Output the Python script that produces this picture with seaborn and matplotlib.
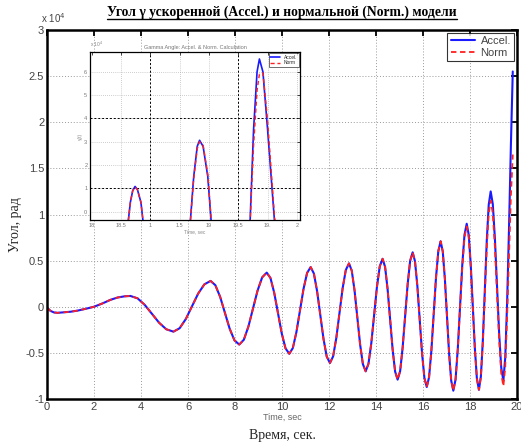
import numpy as np
import pandas as pd
import matplotlib
matplotlib.use("Agg")
import matplotlib.pyplot as plt
import seaborn as sns
from matplotlib.lines import Line2D

# ---------------- data (values in units of the x10 factor) ----------------
t = [0.0, 0.15, 0.3, 0.45, 0.7, 1.0, 1.3, 1.65, 2.0, 2.35, 2.7, 3.0, 3.3, 3.55,
     3.855, 4.16, 4.465, 4.77, 5.075, 5.38,
     5.643, 5.907, 6.17, 6.433, 6.697, 6.96,
     7.163, 7.367, 7.57, 7.773, 7.977, 8.18,
     8.375, 8.57, 8.765, 8.96, 9.155, 9.35,
     9.51, 9.67, 9.83, 9.99, 10.15, 10.31,
     10.462, 10.613, 10.765, 10.917, 11.068, 11.22,
     11.357, 11.493, 11.63, 11.767, 11.903, 12.04,
     12.175, 12.31, 12.445, 12.58, 12.715, 12.85,
     12.968, 13.087, 13.205, 13.323, 13.442, 13.56,
     13.68, 13.80, 13.92, 14.04, 14.16, 14.28,
     14.387, 14.493, 14.60, 14.707, 14.813, 14.92,
     15.027, 15.133, 15.24, 15.347, 15.453, 15.56,
     15.66, 15.76, 15.86, 15.96, 16.06, 16.16,
     16.258, 16.357, 16.455, 16.553, 16.652, 16.75,
     16.84, 16.93, 17.02, 17.11, 17.20, 17.29,
     17.385, 17.48, 17.575, 17.67, 17.765, 17.86,
     17.947, 18.033, 18.12, 18.207, 18.293, 18.38,
     18.463, 18.547, 18.63, 18.713, 18.797, 18.88,
     18.97, 19.06, 19.15, 19.24, 19.33, 19.42,
     19.50, 19.58, 19.66, 19.74, 19.82]

accel = [-0.01, -0.045, -0.062, -0.066, -0.06, -0.054, -0.042, -0.022, 0.0, 0.035, 0.075, 0.10, 0.113, 0.117,
         0.091, 0.020, -0.077, -0.173, -0.244, -0.27,
         -0.233, -0.133, 0.005, 0.143, 0.243, 0.28,
         0.234, 0.108, -0.065, -0.238, -0.364, -0.41,
         -0.358, -0.215, -0.02, 0.175, 0.318, 0.37,
         0.311, 0.15, -0.07, -0.29, -0.451, -0.51,
         -0.447, -0.275, -0.04, 0.195, 0.367, 0.43,
         0.36, 0.17, -0.09, -0.35, -0.54, -0.61,
         -0.538, -0.34, -0.07, 0.20, 0.398, 0.47,
         0.392, 0.178, -0.115, -0.407, -0.622, -0.70,
         -0.618, -0.395, -0.09, 0.215, 0.438, 0.52,
         0.432, 0.193, -0.135, -0.462, -0.702, -0.79,
         -0.698, -0.445, -0.10, 0.245, 0.498, 0.59,
         0.492, 0.225, -0.14, -0.505, -0.772, -0.87,
         -0.764, -0.475, -0.08, 0.315, 0.604, 0.71,
         0.601, 0.305, -0.10, -0.505, -0.801, -0.91,
         -0.789, -0.458, -0.005, 0.448, 0.779, 0.90,
         0.779, 0.45, 0.0, -0.45, -0.779, -0.90,
         -0.756, -0.363, 0.175, 0.713, 1.106, 1.25,
         1.113, 0.738, 0.225, -0.288, -0.663, -0.80,
         -0.55, 0.05, 0.85, 1.75, 2.55]

norm = [-0.01, -0.045, -0.062, -0.066, -0.06, -0.054, -0.042, -0.022, 0.0, 0.035, 0.075, 0.10, 0.113, 0.117,
        0.091, 0.020, -0.077, -0.173, -0.244, -0.27,
        -0.233, -0.133, 0.005, 0.143, 0.243, 0.28,
        0.234, 0.108, -0.065, -0.238, -0.364, -0.41,
        -0.358, -0.215, -0.02, 0.175, 0.318, 0.37,
        0.311, 0.15, -0.07, -0.29, -0.451, -0.51,
        -0.447, -0.275, -0.04, 0.195, 0.367, 0.43,
        0.36, 0.17, -0.09, -0.35, -0.54, -0.61,
        -0.538, -0.34, -0.07, 0.20, 0.398, 0.47,
        0.392, 0.178, -0.115, -0.407, -0.622, -0.70,
        -0.618, -0.395, -0.09, 0.215, 0.438, 0.52,
        0.432, 0.193, -0.135, -0.462, -0.702, -0.79,
        -0.698, -0.445, -0.10, 0.245, 0.498, 0.59,
        0.492, 0.225, -0.14, -0.505, -0.772, -0.87,
        -0.764, -0.475, -0.08, 0.315, 0.604, 0.71,
        0.601, 0.305, -0.10, -0.505, -0.801, -0.91,
        -0.79, -0.465, -0.02, 0.425, 0.751, 0.87,
        0.751, 0.428, -0.015, -0.458, -0.781, -0.90,
        -0.763, -0.388, 0.125, 0.638, 1.013, 1.15,
        1.015, 0.648, 0.145, -0.358, -0.725, -0.86,
        -0.65, -0.10, 0.55, 1.20, 1.65]

# inset (zoomed) data
t_in = [18.20, 18.31, 18.33, 18.35, 18.37, 18.39, 18.42, 18.44, 18.60,
        18.84, 18.87, 18.90, 18.92, 18.95, 18.99, 19.02, 19.20,
        19.35, 19.38, 19.41, 19.43, 19.46, 19.50, 19.56, 19.70]
accel_in = [-3, -0.5, 0.4, 0.9, 1.08, 0.95, 0.4, -0.5, -3,
            -0.5, 1.5, 2.8, 3.06, 2.8, 1.5, -0.5, -3,
            -0.5, 3.5, 6.0, 6.55, 6.0, 3.5, -0.5, -3]
norm_in = [-3, -0.5, 0.4, 0.9, 1.05, 0.95, 0.4, -0.5, -3,
           -0.5, 1.4, 2.7, 3.0, 2.85, 1.6, -0.4, -3,
           -0.6, 2.8, 5.2, 5.9, 5.95, 3.9, -0.3, -3]

x_ticks = [0, 2, 4, 6, 8, 10, 12, 14, 16, 18, 20]
y_ticks = [-1, -0.5, 0, 0.5, 1, 1.5, 2, 2.5, 3]
y_ticklabels = ["-1", "-0.5", "0", "0.5", "1", "1.5", "2", "2.5", "3"]
in_x_ticks = [18.0, 18.25, 18.5, 18.75, 19.0, 19.25, 19.5, 19.75]
in_x_labels = ["18", "18.5", "1", "1.5", "19", "19.5", "19.", "2"]
in_y_ticks = [0, 1, 2, 3, 4, 5, 6]

df = pd.DataFrame({"t": t, "Accel.": accel, "Norm": norm})
dfi = pd.DataFrame({"t": t_in, "Accel.": accel_in, "Norm": norm_in})

sns.set_theme(style="white")
plt.rcParams["font.family"] = ["Liberation Sans", "DejaVu Sans"]

BLUE = "#1a1aff"
RED = "#ff2020"
TICKC = "#444444"

fig = plt.figure(figsize=(5.21, 4.47), dpi=100)
fig.patch.set_facecolor("white")

ax = fig.add_axes([47 / 521, 1 - 399 / 447, 470 / 521, 369 / 447])
ax.set_facecolor("white")

# grid
for xv in x_ticks[1:-1]:
    ax.axvline(xv, color="#9a9a9a", lw=0.7, ls=(0, (1, 2)), zorder=0)
for yv in y_ticks[1:-1]:
    ax.axhline(yv, color="#9a9a9a", lw=0.7, ls=(0, (1, 2)), zorder=0)

sns.lineplot(data=df, x="t", y="Accel.", ax=ax, color=BLUE, lw=1.5,
             sort=False, estimator=None, label="Accel.")
sns.lineplot(data=df, x="t", y="Norm", ax=ax, color=RED, lw=1.3,
             sort=False, estimator=None, label="Norm", linestyle=(0, (3, 2)))

ax.set_xlim(0, 20)
ax.set_ylim(-1, 3)
ax.set_xticks(x_ticks)
ax.set_yticks(y_ticks)
ax.set_yticklabels(y_ticklabels)
ax.tick_params(direction="in", top=True, right=True, length=4, width=1.3,
               color="black", labelsize=8, labelcolor=TICKC, pad=2)
for s in ax.spines.values():
    s.set_linewidth(1.8)
    s.set_color("black")
ax.set_xlabel("Time, sec", fontsize=6.5, color="#666666", labelpad=1)
ax.set_ylabel("")

leg = ax.legend(loc="upper right", fontsize=8, frameon=True, fancybox=False,
                borderaxespad=0.25, handlelength=2.2, labelspacing=0.15,
                borderpad=0.3, handletextpad=0.5)
leg.get_frame().set_edgecolor("black")
leg.get_frame().set_linewidth(0.8)
for txt in leg.get_texts():
    txt.set_color(TICKC)

fig.text(41 / 521, 1 - 18 / 447, "x 10$^{4}$", fontsize=7, color=TICKC,
         ha="left", va="center")

# Russian texts
title = fig.text(282 / 521, 1 - 12 / 447,
                 "Угол γ ускоренной (Accel.) и нормальной (Norm.) модели",
                 fontsize=9.8, fontweight="bold", ha="center", va="center",
                 family=["Liberation Serif", "DejaVu Serif"], color="black")
fig.text(282 / 521, 1 - 436 / 447, "Время, сек.", fontsize=10,
         ha="center", va="center", family=["Liberation Serif", "DejaVu Serif"])
fig.text(15 / 521, 1 - 225 / 447, "Угол, рад", fontsize=10, rotation=90,
         ha="center", va="center", family=["Liberation Serif", "DejaVu Serif"])

# ---------------- inset ----------------
ax2 = fig.add_axes([90 / 521, 1 - 220 / 447, 210 / 521, 168 / 447])
ax2.set_facecolor("white")
for xv in in_x_ticks[1:]:
    ax2.axvline(xv, color="#a0a0a0", lw=0.5, ls=(0, (1, 2)), zorder=0)
for yv in in_y_ticks:
    ax2.axhline(yv, color="#a0a0a0", lw=0.5, ls=(0, (1, 2)), zorder=0)
for xv in [18.5, 19.25]:
    ax2.axvline(xv, color="black", lw=0.7, ls=(0, (2, 2)), zorder=0)
for yv in [1, 4]:
    ax2.axhline(yv, color="black", lw=0.7, ls=(0, (2, 2)), zorder=0)

sns.lineplot(data=dfi, x="t", y="Accel.", ax=ax2, color=BLUE, lw=1.2,
             sort=False, estimator=None, label="Accel.")
sns.lineplot(data=dfi, x="t", y="Norm", ax=ax2, color=RED, lw=1.0,
             sort=False, estimator=None, label="Norm", linestyle=(0, (3, 2)))
ax2.set_xlim(17.986, 19.776)
ax2.set_ylim(-0.36, 6.85)
ax2.set_xticks(in_x_ticks)
ax2.set_xticklabels(in_x_labels)
ax2.set_yticks(in_y_ticks)
ax2.tick_params(direction="in", top=True, right=True, length=2.5, width=0.6,
                labelsize=4, labelcolor="#777777", pad=2)
for s in ax2.spines.values():
    s.set_linewidth(0.9)
    s.set_color("black")
ax2.set_xlabel("Time, sec", fontsize=3.5, color="#888888", labelpad=1)
ax2.set_ylabel("γ(t)", fontsize=3.5, color="#888888", labelpad=1)
ax2.set_title("Gamma Angle: Accel. & Norm. Calculation", fontsize=4,
              color="#777777", pad=2)
ax2.text(0.0, 1.02, "x 10$^{4}$", transform=ax2.transAxes, fontsize=3.5,
         color="#888888", ha="left", va="bottom")
leg2 = ax2.legend(loc="upper right", fontsize=3.5, frameon=True, fancybox=False,
                  borderaxespad=0.3, handlelength=2.0, labelspacing=0.1,
                  borderpad=0.3)
leg2.get_frame().set_edgecolor("black")
leg2.get_frame().set_linewidth(0.5)

# underline for the title
fig.canvas.draw()
bb = title.get_window_extent(renderer=fig.canvas.get_renderer())
inv = fig.transFigure.inverted()
(x0, y0), (x1, y1) = inv.transform([(bb.x0, bb.y0), (bb.x1, bb.y1)])
fig.add_artist(Line2D([x0, x1], [y0 - 0.001, y0 - 0.001], color="black",
                      lw=1.0, transform=fig.transFigure))

fig.savefig("out.png", dpi=100, facecolor="white")
